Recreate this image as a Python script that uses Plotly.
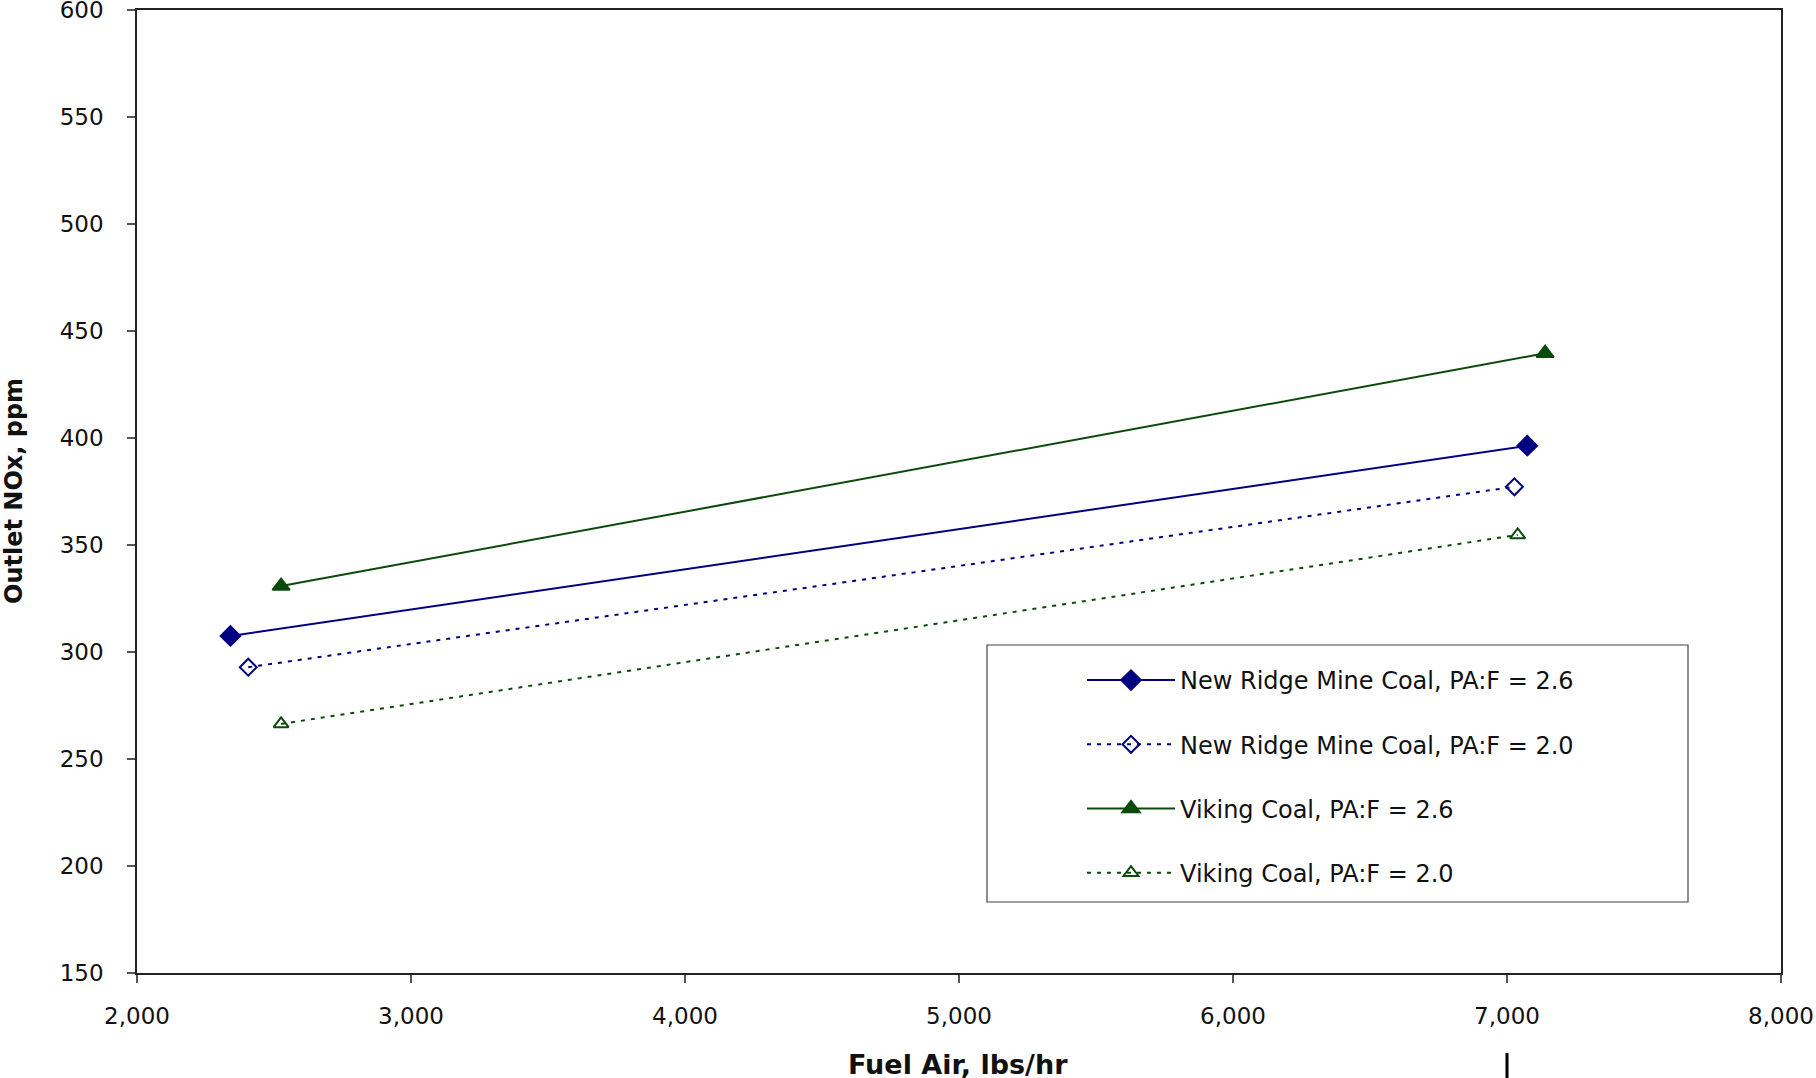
import plotly.graph_objects as go

# Data
series_names = [
    "New Ridge Mine Coal, PA:F = 2.6",
    "New Ridge Mine Coal, PA:F = 2.0",
    "Viking Coal, PA:F = 2.6",
    "Viking Coal, PA:F = 2.0",
]
nr26_x = [2341, 7074]
nr26_y = [307.5, 396.4]
nr20_x = [2406, 7027]
nr20_y = [292.9, 377.2]
vk26_x = [2526, 7139]
vk26_y = [330.8, 439.6]
vk20_x = [2526, 7039]
vk20_y = [266.4, 354.7]

x_tick_vals = [2000, 3000, 4000, 5000, 6000, 7000, 8000]
y_tick_vals = [150, 200, 250, 300, 350, 400, 450, 500, 550, 600]

NAVY = "#000080"
GREEN = "#0b4a0b"
FONT = "DejaVu Sans, Verdana, sans-serif"

W, H = 1816, 1078
L, R, T, B = 137, 35, 10, 105
PW, PH = W - L - R, H - T - B


def px_x(p):
    return (p - L) / PW


def px_y(p):
    return (H - B - p) / PH


fig = go.Figure()
specs = [
    (nr26_x, nr26_y, NAVY, "solid", "diamond", 15),
    (nr20_x, nr20_y, NAVY, "4px,6px", "diamond-open", 13),
    (vk26_x, vk26_y, GREEN, "solid", "triangle-up", 15),
    (vk20_x, vk20_y, GREEN, "4px,6px", "triangle-up-open", 13),
]
for i, (xs, ys, col, dash, sym, sz) in enumerate(specs):
    fig.add_trace(go.Scatter(
        x=xs, y=ys, mode="lines+markers", name=series_names[i],
        legendgroup=f"g{i}",
        line=dict(color=col, width=2, dash=dash),
        marker=dict(symbol=sym, size=sz, color=col,
                    line=dict(color=col, width=2)),
    ))

axis_common = dict(
    showline=True, linecolor="#222222", linewidth=1.5, mirror=True,
    showgrid=False, zeroline=False, ticks="outside", ticklen=8,
    tickcolor="#555555", tickwidth=1.5, automargin=False,
    ticklabeloverflow="allow",
    tickfont=dict(family=FONT, size=23, color="#111111"),
)
fig.update_xaxes(range=[2000, 8000], tickvals=x_tick_vals, tickformat=",",
                 ticklabelstandoff=14, **axis_common)
fig.update_yaxes(range=[150, 600], tickvals=y_tick_vals,
                 ticklabelstandoff=19, **axis_common)

# Legend box
fig.add_shape(type="rect", xref="paper", yref="paper",
              x0=px_x(987), x1=px_x(1688), y0=px_y(902), y1=px_y(645),
              line=dict(color="#444444", width=1.2), fillcolor="white", layer="below")

# stray mark at bottom
fig.add_shape(type="line", xref="paper", yref="paper",
              x0=px_x(1507), x1=px_x(1507), y0=px_y(1053), y1=px_y(1080),
              line=dict(color="black", width=3))

fig.add_annotation(text="<b>Fuel Air, lbs/hr</b>", xref="paper", yref="paper",
                   x=px_x(958), y=px_y(1064), showarrow=False,
                   xanchor="center", yanchor="middle",
                   font=dict(family=FONT, size=27, color="#111111"))
fig.add_annotation(text="<b>Outlet NOx, ppm</b>", xref="paper", yref="paper",
                   x=px_x(14), y=px_y(491), showarrow=False, textangle=-90,
                   xanchor="center", yanchor="middle",
                   font=dict(family=FONT, size=24, color="#111111"))

fig.update_layout(
    width=W, height=H,
    margin=dict(l=L, r=R, t=T, b=B, autoexpand=False),
    plot_bgcolor="white", paper_bgcolor="white",
    legend=dict(
        x=px_x(1082), y=px_y(658), xanchor="left", yanchor="top",
        bgcolor="rgba(0,0,0,0)", borderwidth=0,
        font=dict(family=FONT, size=24, color="#111111"),
        tracegroupgap=30, traceorder="grouped", itemwidth=88,
    ),
)

fig.write_html("out.html")
